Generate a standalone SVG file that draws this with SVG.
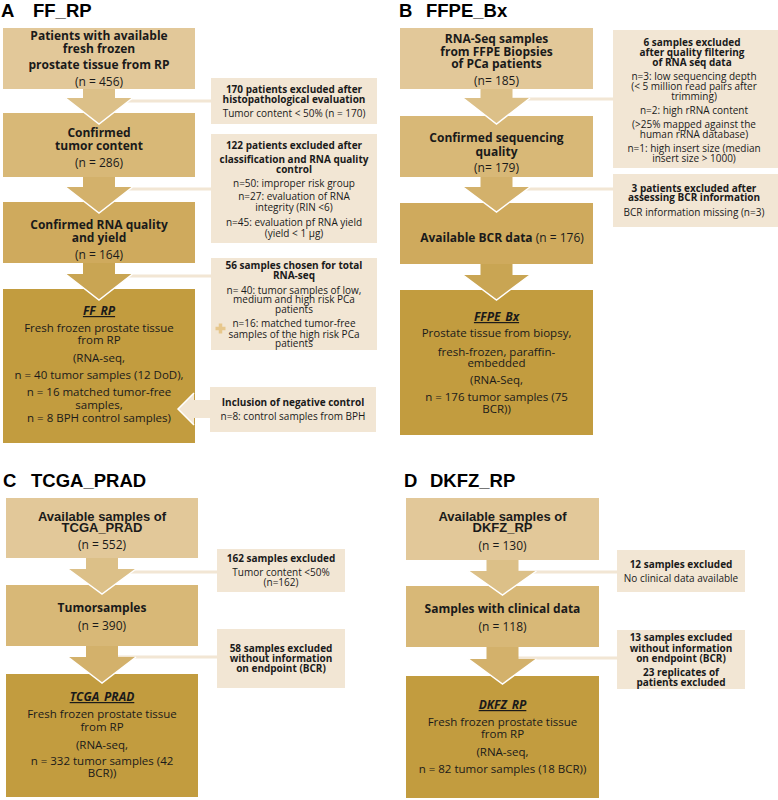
<svg xmlns="http://www.w3.org/2000/svg" width="778" height="800" viewBox="0 0 778 800">
<style>
text{font-family:"Open Sans","Noto Sans","DejaVu Sans",sans-serif;fill:#1a1a1a;text-anchor:middle}
.ttl{font-family:"Liberation Sans",Arial,sans-serif;font-size:18.5px;font-weight:bold;text-anchor:start;fill:#000}
.hb{font-size:12px;font-weight:bold}
.ha{font-family:"Liberation Sans",Arial,sans-serif;font-size:13px;font-weight:bold}
.hr{font-size:12px}
.ft{font-size:12px;font-weight:bold;font-style:italic;text-decoration:underline}
.fr{font-size:11.5px}
.sb{font-size:10px;font-weight:bold}
.sr{font-size:10px}
.c1{fill:#e2c899}
.c2{fill:#d8b877}
.c3{fill:#cfaa5d}
.c4{fill:#c29c3f}
.sd{fill:#f2e6d4}
.a1{fill:#dcc088}
.a2{fill:#d3b16b}
.a3{fill:#c9a553}
.edge{fill:none;stroke:#fff;stroke-width:1.5}
.ln{stroke:#f2e6d4;stroke-width:3}
</style>

<!-- Panel titles -->
<g id="titles">
<text class="ttl" x="1" y="17">A</text><text class="ttl" x="33" y="17">FF_RP</text>
<text class="ttl" x="399" y="17">B</text><text class="ttl" x="426" y="17">FFPE_Bx</text>
<text class="ttl" x="3" y="487">C</text><text class="ttl" x="31" y="487">TCGA_PRAD</text>
<text class="ttl" x="404" y="487">D</text><text class="ttl" x="430" y="487">DKFZ_RP</text>
</g>

<!-- Panel A nodes -->
<g id="a1"><rect class="c1" x="3" y="28" width="192" height="61"/>
<text class="hb" x="99" y="40">Patients with available</text>
<text class="hb" x="99" y="53">fresh frozen</text>
<text class="hb" x="99" y="69">prostate tissue from RP</text>
<text class="hr" x="99" y="86">(n = 456)</text></g>
<g id="a2"><rect class="c2" x="3" y="113" width="192" height="64"/>
<text class="hb" x="99" y="137">Confirmed</text>
<text class="hb" x="99" y="150">tumor content</text>
<text class="hr" x="99" y="167">(n = 286)</text></g>
<g id="a3"><rect class="c3" x="3" y="202" width="192" height="61"/>
<text class="hb" x="99" y="229">Confirmed RNA quality</text>
<text class="hb" x="99" y="242">and yield</text>
<text class="hr" x="99" y="259">(n = 164)</text></g>
<g id="a4"><rect class="c4" x="3" y="289" width="192" height="154"/>
<text class="ft" x="99" y="315">FF_RP</text>
<text class="fr" x="99" y="332">Fresh frozen prostate tissue</text>
<text class="fr" x="99" y="344">from RP</text>
<text class="fr" x="99" y="362">(RNA-seq,</text>
<text class="fr" x="99" y="379">n = 40 tumor samples (12 DoD),</text>
<text class="fr" x="99" y="396">n = 16 matched tumor-free</text>
<text class="fr" x="99" y="409">samples,</text>
<text class="fr" x="99" y="422">n = 8 BPH control samples)</text></g>
<g id="a_ex1"><rect class="sd" x="211" y="78" width="166" height="46"/>
<text class="sb" x="294" y="93">170 patients excluded after</text>
<text class="sb" x="294" y="103">histopathological evaluation</text>
<text class="sr" x="294" y="117">Tumor content &lt; 50% (n = 170)</text></g>
<g id="a_ex2"><rect class="sd" x="211" y="134" width="166" height="109"/>
<text class="sb" x="294" y="149">122 patients excluded after</text>
<text class="sb" x="294" y="163">classification and RNA quality</text>
<text class="sb" x="294" y="173">control</text>
<text class="sr" x="294" y="187">n=50: improper risk group</text>
<text class="sr" x="294" y="200">n=27: evaluation of RNA</text>
<text class="sr" x="294" y="211">integrity (RIN &lt;6)</text>
<text class="sr" x="294" y="226">n=45: evaluation pf RNA yield</text>
<text class="sr" x="294" y="237">(yield &lt; 1 µg)</text></g>
<g id="a_sel"><rect class="sd" x="211" y="258" width="166" height="92"/>
<text class="sb" x="294" y="269">56 samples chosen for total</text>
<text class="sb" x="294" y="279">RNA-seq</text>
<text class="sr" x="294" y="294">n= 40: tumor samples of low,</text>
<text class="sr" x="294" y="303">medium and high risk PCa</text>
<text class="sr" x="294" y="313">patients</text>
<text class="sr" x="294" y="327">n=16: matched tumor-free</text>
<text class="sr" x="294" y="338">samples of the high risk PCa</text>
<text class="sr" x="294" y="347">patients</text>
<path d="M220.5 323.5v10M215.5 328.5h10" stroke="#e7c78c" stroke-width="3.5"/></g>
<g id="a_ctrl"><rect class="sd" x="210" y="387" width="166" height="45"/>
<text class="sb" x="293" y="406">Inclusion of negative control</text>
<text class="sr" x="293" y="420">n=8: control samples from BPH</text></g>

<!-- Panel B nodes -->
<g id="b1"><rect class="c1" x="400" y="28" width="193" height="61"/>
<text class="hb" x="496.5" y="43">RNA-Seq samples</text>
<text class="hb" x="496.5" y="56">from FFPE Biopsies</text>
<text class="hb" x="496.5" y="68">of PCa patients</text>
<text class="hr" x="496.5" y="85">(n= 185)</text></g>
<g id="b2"><rect class="c2" x="400" y="116" width="193" height="61"/>
<text class="hb" x="496.5" y="142">Confirmed sequencing</text>
<text class="hb" x="496.5" y="156">quality</text>
<text class="hr" x="496.5" y="172">(n= 179)</text></g>
<g id="b3"><rect class="c3" x="400" y="203" width="193" height="61"/>
<text class="hb" x="502" y="242">Available BCR data <tspan font-weight="normal">(n = 176)</tspan></text></g>
<g id="b4"><rect class="c4" x="400" y="290" width="193" height="145"/>
<text class="ft" x="496.5" y="321">FFPE_Bx</text>
<text class="fr" x="496.5" y="337">Prostate tissue from biopsy,</text>
<text class="fr" x="496.5" y="356">fresh-frozen, paraffin-</text>
<text class="fr" x="496.5" y="367">embedded</text>
<text class="fr" x="496.5" y="384">(RNA-Seq,</text>
<text class="fr" x="496.5" y="401">n = 176 tumor samples (75</text>
<text class="fr" x="496.5" y="413">BCR))</text></g>
<g id="b_ex1"><rect class="sd" x="613" y="30" width="165" height="138"/>
<text class="sb" x="692" y="46">6 samples excluded</text>
<text class="sb" x="692" y="56">after quality filtering</text>
<text class="sb" x="692" y="66">of RNA seq data</text>
<text class="sr" x="694" y="80">n=3: low sequencing depth</text>
<text class="sr" x="694" y="90">(&lt; 5 million read pairs after</text>
<text class="sr" x="694" y="100">trimming)</text>
<text class="sr" x="694" y="114">n=2: high rRNA content</text>
<text class="sr" x="694" y="128">(&gt;25% mapped against the</text>
<text class="sr" x="694" y="138">human rRNA database)</text>
<text class="sr" x="694" y="152">n=1: high insert size (median</text>
<text class="sr" x="694" y="162">insert size &gt; 1000)</text></g>
<g id="b_ex2"><rect class="sd" x="613" y="174" width="165" height="53"/>
<text class="sb" x="694" y="192">3 patients excluded after</text>
<text class="sb" x="694" y="201">assessing BCR information</text>
<text class="sr" x="694" y="216">BCR information missing (n=3)</text></g>

<!-- Panel C nodes -->
<g id="c1"><rect class="c1" x="6" y="498" width="192" height="60"/>
<text class="ha" x="102" y="521">Available samples of</text>
<text class="ha" x="102" y="532">TCGA_PRAD</text>
<text class="hr" x="102" y="549">(n = 552)</text></g>
<g id="c2"><rect class="c2" x="6" y="585" width="192" height="61"/>
<text class="hb" x="102" y="612">Tumorsamples</text>
<text class="hr" x="102" y="630">(n = 390)</text></g>
<g id="c3"><rect class="c4" x="6" y="674" width="192" height="123"/>
<text class="ft" x="102" y="701">TCGA_PRAD</text>
<text class="fr" x="102" y="718">Fresh frozen prostate tissue</text>
<text class="fr" x="102" y="731">from RP</text>
<text class="fr" x="102" y="749">(RNA-seq,</text>
<text class="fr" x="102" y="765">n = 332 tumor samples (42</text>
<text class="fr" x="102" y="777">BCR))</text></g>
<g id="c_ex1"><rect class="sd" x="217" y="549" width="128" height="43"/>
<text class="sb" x="281" y="562">162 samples excluded</text>
<text class="sr" x="281" y="576">Tumor content &lt;50%</text>
<text class="sr" x="281" y="586">(n=162)</text></g>
<g id="c_ex2"><rect class="sd" x="217" y="629" width="128" height="59"/>
<text class="sb" x="281" y="652">58 samples excluded</text>
<text class="sb" x="281" y="662">without information</text>
<text class="sb" x="281" y="672">on endpoint (BCR)</text></g>

<!-- Panel D nodes -->
<g id="d1"><rect class="c1" x="406" y="498" width="193" height="62"/>
<text class="ha" x="502.5" y="521">Available samples of</text>
<text class="ha" x="502.5" y="532">DKFZ_RP</text>
<text class="hr" x="502.5" y="550">(n = 130)</text></g>
<g id="d2"><rect class="c2" x="406" y="586" width="193" height="61"/>
<text class="hb" x="502.5" y="613">Samples with clinical data</text>
<text class="hr" x="502.5" y="631">(n = 118)</text></g>
<g id="d3"><rect class="c4" x="406" y="676" width="193" height="122"/>
<text class="ft" x="502.5" y="709">DKFZ_RP</text>
<text class="fr" x="502.5" y="726">Fresh frozen prostate tissue</text>
<text class="fr" x="502.5" y="738">from RP</text>
<text class="fr" x="502.5" y="756">(RNA-seq,</text>
<text class="fr" x="502.5" y="773">n = 82 tumor samples (18 BCR))</text></g>
<g id="d_ex1"><rect class="sd" x="617" y="550" width="128" height="42"/>
<text class="sb" x="681" y="568">12 samples excluded</text>
<text class="sr" x="681" y="582">No clinical data available</text></g>
<g id="d_ex2"><rect class="sd" x="617" y="630" width="128" height="59"/>
<text class="sb" x="681" y="641">13 samples excluded</text>
<text class="sb" x="681" y="652">without information</text>
<text class="sb" x="681" y="662">on endpoint (BCR)</text>
<text class="sb" x="681" y="676">23 replicates of</text>
<text class="sb" x="681" y="686">patients excluded</text></g>

<!-- Connectors -->
<g id="connectors">
<line class="ln" x1="110" y1="101" x2="212" y2="101"/>
<line class="ln" x1="110" y1="189" x2="212" y2="189"/>
<line class="ln" x1="110" y1="276" x2="212" y2="276"/>
<line class="ln" x1="507" y1="99" x2="614" y2="99"/>
<line class="ln" x1="507" y1="189" x2="614" y2="189"/>
<line class="ln" x1="112" y1="572" x2="218" y2="572"/>
<line class="ln" x1="112" y1="657" x2="218" y2="657"/>
<line class="ln" x1="512" y1="572" x2="618" y2="572"/>
<line class="ln" x1="512" y1="658" x2="618" y2="658"/>

<path class="a1" d="M83 89H115V98H132.5L99 124L65.5 98H83Z"/>
<path class="edge" d="M132.5 98L99 124L65.5 98"/>
<path class="a2" d="M83 177H115V187H132.5L99 213L65.5 187H83Z"/>
<path class="edge" d="M132.5 187L99 213L65.5 187"/>
<path class="a3" d="M83 263H115V274H132.5L99 300L65.5 274H83Z"/>
<path class="edge" d="M132.5 274L99 300L65.5 274"/>
<path class="sd" d="M178 409L194 393V400H211V418H194V425Z"/>
<path class="edge" d="M194 393L178 409L194 425"/>

<path class="a1" d="M480.5 89H512.5V98H530L496.5 124L463 98H480.5Z"/>
<path class="edge" d="M530 98L496.5 124L463 98"/>
<path class="a2" d="M480.5 177H512.5V187H530L496.5 212L463 187H480.5Z"/>
<path class="edge" d="M530 187L496.5 212L463 187"/>
<path class="a3" d="M480.5 264H512.5V275H530L496.5 300L463 275H480.5Z"/>
<path class="edge" d="M530 275L496.5 300L463 275"/>

<path class="a1" d="M86 558H118V569H136L102 594L68 569H86Z"/>
<path class="edge" d="M136 569L102 594L68 569"/>
<path class="a2" d="M86 646H118V657H136L102 683L68 657H86Z"/>
<path class="edge" d="M136 657L102 683L68 657"/>

<path class="a1" d="M486.5 560H518.5V571H536.5L502.5 595L468.5 571H486.5Z"/>
<path class="edge" d="M536.5 571L502.5 595L468.5 571"/>
<path class="a2" d="M486.5 647H518.5V659H536.5L502.5 684L468.5 659H486.5Z"/>
<path class="edge" d="M536.5 659L502.5 684L468.5 659"/>
</g>
</svg>
